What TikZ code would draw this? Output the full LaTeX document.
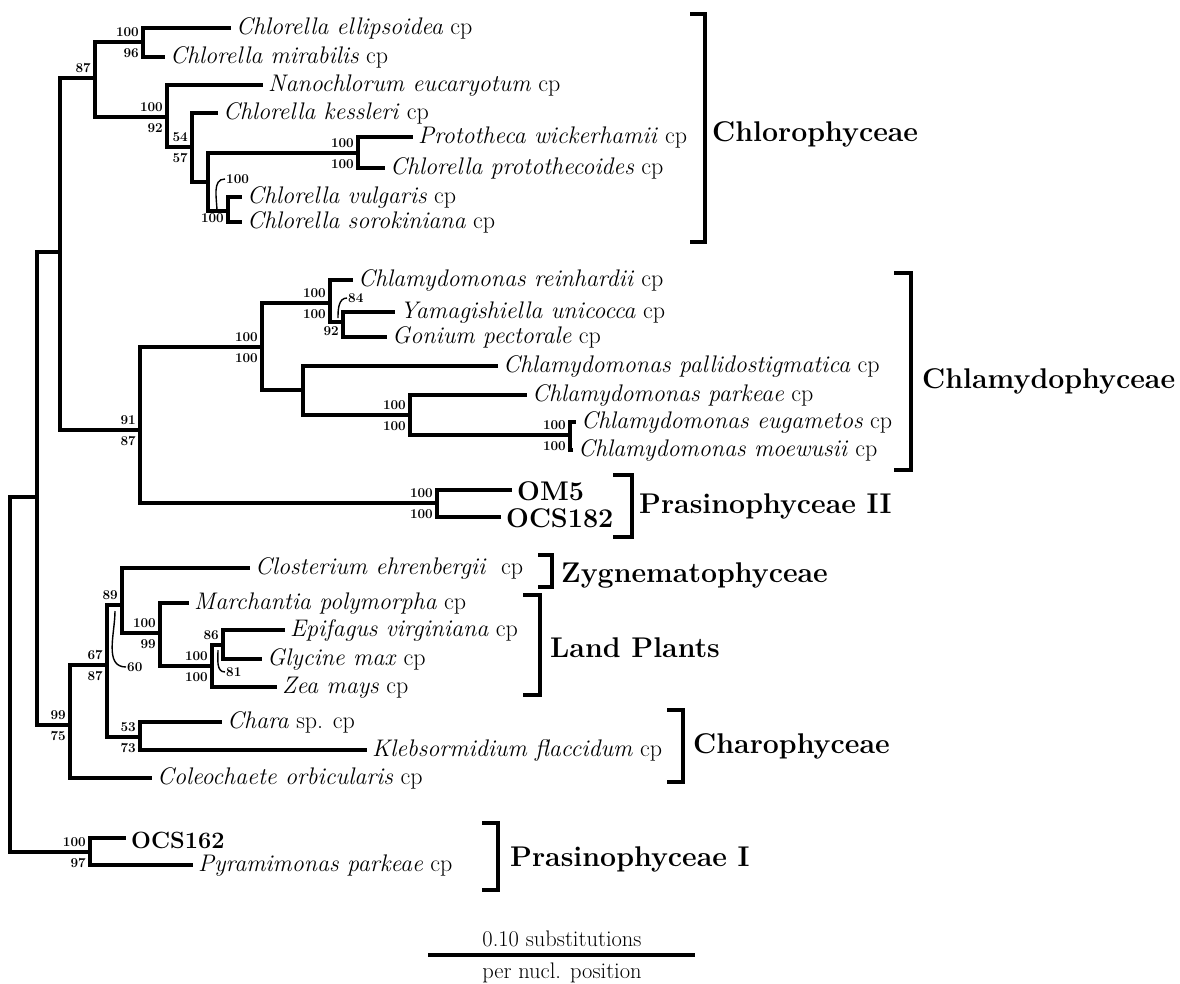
\documentclass[tikz,border=0pt]{standalone}
\usetikzlibrary{positioning}
\newcommand{\cpx}[1]{\textit{#1} cp}

\begin{document}
\begin{tikzpicture}[x=1pt,y=-1pt,
  br/.style={line width=4pt,line join=miter},
  lf/.style={anchor=west,inner xsep=5pt,inner ysep=0pt,text height=17pt,text depth=5pt,font=\fontsize{24}{28}\selectfont},
  lfb/.style={lf,text height=24pt,text depth=4pt,font=\fontsize{27}{30}\selectfont\bfseries},
  up/.style={anchor=south east,inner sep=1pt,font=\fontsize{13.5}{14}\selectfont\bfseries},
  dn/.style={anchor=north east,inner sep=1pt,font=\fontsize{13.5}{14}\selectfont\bfseries},
  sd/.style={anchor=west,inner sep=1pt,font=\fontsize{13.5}{14}\selectfont\bfseries},
  ld/.style={line width=1.4pt},
  brk/.style={line width=4pt,line join=miter},
  grp/.style={anchor=base west,inner sep=0pt,font=\fontsize{28.5}{32}\selectfont\bfseries},
  sc/.style={inner sep=0pt,font=\fontsize{22.5}{26}\selectfont}]

\useasboundingbox (0,0) rectangle (1180,983);

% inner nodes
\coordinate (r) at (10,675);
\coordinate (a) at (37,497);
\coordinate (b) at (60,252);
\coordinate (c) at (95,78);
\coordinate (e) at (143,42);
\coordinate (f) at (167,117);
\coordinate (g) at (192,147);
\coordinate (h) at (208,182);
\coordinate (i) at (358,153);
\coordinate (j) at (228,211);
\coordinate (d) at (140,430);
\coordinate (k) at (262,347);
\coordinate (l) at (330,303);
\coordinate (o) at (343,322);
\coordinate (n) at (303,390);
\coordinate (q) at (410,415);
\coordinate (s) at (570,435);
\coordinate (m) at (437,503);
\coordinate (lo) at (70,725);
\coordinate (t) at (107,665);
\coordinate (u) at (122,605);
\coordinate (w) at (160,633);
\coordinate (x) at (212,666);
\coordinate (y) at (223,645);
\coordinate (v) at (140,737);
\coordinate (p) at (90,852);

% leaves
\node[lf] (ell) at (231,28) {\cpx{Chlorella ellipsoidea}};
\node[lf] (mir) at (165,57) {\cpx{Chlorella mirabilis}};
\node[lf] (nan) at (263,85) {\cpx{Nanochlorum eucaryotum}};
\node[lf] (kes) at (218,113) {\cpx{Chlorella kessleri}};
\node[lf] (wic) at (413,137) {\cpx{Prototheca wickerhamii}};
\node[lf] (pro) at (385,168) {\cpx{Chlorella protothecoides}};
\node[lf] (vul) at (242,197) {\cpx{Chlorella vulgaris}};
\node[lf] (sor) at (242,222) {\cpx{Chlorella sorokiniana}};
\node[lf] (rei) at (353,280) {\cpx{Chlamydomonas reinhardii}};
\node[lf] (yam) at (395,312) {\cpx{Yamagishiella unicocca}};
\node[lf] (gon) at (387,337) {\cpx{Gonium pectorale}};
\node[lf] (pal) at (498,366) {\cpx{Chlamydomonas pallidostigmatica}};
\node[lf] (par) at (527,395) {\cpx{Chlamydomonas parkeae}};
\node[lf] (eug) at (576,422) {\cpx{Chlamydomonas eugametos}};
\node[lf] (moe) at (573,450) {\cpx{Chlamydomonas moewusii}};
\node[lfb] (om5) at (512,490) {OM5};
\node[lfb] (ocs182) at (501,517) {OCS182};
\node[lf] (clo) at (250,568) {\textit{Closterium ehrenbergii}\ \ cp};
\node[lf] (mar) at (189,603) {\cpx{Marchantia polymorpha}};
\node[lf] (epi) at (285,630) {\cpx{Epifagus virginiana}};
\node[lf] (gly) at (262,659) {\cpx{Glycine max}};
\node[lf] (zea) at (277,687) {\cpx{Zea mays}};
\node[lf] (cha) at (222,722) {\textit{Chara} sp. cp};
\node[lf] (kle) at (367,750) {\cpx{Klebsormidium flaccidum}};
\node[lf] (col) at (152,778) {\cpx{Coleochaete orbicularis}};
\node[lfb,font=\fontsize{23.5}{26}\selectfont\bfseries] (ocs162) at (126,838) {OCS162};
\node[lf] (pyr) at (193,865) {\cpx{Pyramimonas parkeae}};

% branches
\draw[br] (r) |- (a); \draw[br] (r) |- (p);
\draw[br] (a) |- (b); \draw[br] (a) |- (lo);
\draw[br] (b) |- (c); \draw[br] (b) |- (d);
\draw[br] (c) |- (e); \draw[br] (c) |- (f);
\draw[br] (e) |- (ell.west); \draw[br] (e) |- (mir.west);
\draw[br] (f) |- (nan.west); \draw[br] (f) |- (g);
\draw[br] (g) |- (kes.west); \draw[br] (g) |- (h);
\draw[br] (h) |- (i); \draw[br] (h) |- (j);
\draw[br] (i) |- (wic.west); \draw[br] (i) |- (pro.west);
\draw[br] (j) |- (vul.west); \draw[br] (j) |- (sor.west);
\draw[br] (d) |- (k); \draw[br] (d) |- (m);
\draw[br] (k) |- (l); \draw[br] (k) |- (n);
\draw[br] (l) |- (rei.west); \draw[br] (l) |- (o);
\draw[br] (o) |- (yam.west); \draw[br] (o) |- (gon.west);
\draw[br] (n) |- (pal.west); \draw[br] (n) |- (q);
\draw[br] (q) |- (par.west); \draw[br] (q) |- (s);
\draw[br] (s) |- (eug.west); \draw[br] (s) |- (moe.west);
\draw[br] (m) |- (om5.west); \draw[br] (m) |- (ocs182.west);
\draw[br] (lo) |- (t); \draw[br] (lo) |- (col.west);
\draw[br] (t) |- (u); \draw[br] (t) |- (v);
\draw[br] (u) |- (clo.west); \draw[br] (u) |- (w);
\draw[br] (w) |- (mar.west); \draw[br] (w) |- (x);
\draw[br] (x) |- (y); \draw[br] (x) |- (zea.west);
\draw[br] (y) |- (epi.west); \draw[br] (y) |- (gly.west);
\draw[br] (v) |- (cha.west); \draw[br] (v) |- (kle.west);
\draw[br] (p) |- (ocs162.west); \draw[br] (p) |- (pyr.west);

% bootstrap values
\node[up] at ([shift={(-3,-4)}]c) {87};
\node[up] at ([shift={(-3,-4)}]e) {100};
\node[dn] at ([shift={(-3,5)}]e) {96};
\node[up] at ([shift={(-3,-4)}]f) {100};
\node[dn] at ([shift={(-3,5)}]f) {92};
\node[up] at ([shift={(-3,-4)}]g) {54};
\node[dn] at ([shift={(-3,5)}]g) {57};
\node[up] at ([shift={(-3,-4)}]i) {100};
\node[dn] at ([shift={(-3,5)}]i) {100};
\node[dn] at ([shift={(-3,1)}]j) {100};
\node[up] at ([shift={(-3,-4)}]d) {91};
\node[dn] at ([shift={(-3,5)}]d) {87};
\node[up] at ([shift={(-3,-4)}]k) {100};
\node[dn] at ([shift={(-3,5)}]k) {100};
\node[up] at ([shift={(-3,-4)}]l) {100};
\node[dn] at ([shift={(-3,5)}]l) {100};
\node[dn] at ([shift={(-3,3)}]o) {92};
\node[up] at ([shift={(-3,-4)}]q) {100};
\node[dn] at ([shift={(-3,5)}]q) {100};
\node[up] at ([shift={(-3,-4)}]s) {100};
\node[dn] at ([shift={(-3,5)}]s) {100};
\node[up] at ([shift={(-3,-4)}]m) {100};
\node[dn] at ([shift={(-3,5)}]m) {100};
\node[up] at ([shift={(-3,-4)}]lo) {99};
\node[dn] at ([shift={(-3,5)}]lo) {75};
\node[up] at ([shift={(-3,-4)}]t) {67};
\node[dn] at ([shift={(-3,5)}]t) {87};
\node[up] at ([shift={(-3,-4)}]u) {89};
\node[up] at ([shift={(-3,-4)}]w) {100};
\node[dn] at ([shift={(-3,5)}]w) {99};
\node[up] at ([shift={(-3,-4)}]x) {100};
\node[dn] at ([shift={(-3,5)}]x) {100};
\node[up] at ([shift={(-3,-4)}]y) {86};
\node[up] at ([shift={(-3,-4)}]v) {53};
\node[dn] at ([shift={(-3,5)}]v) {73};
\node[up] at ([shift={(-3,-4)}]p) {100};
\node[dn] at ([shift={(-3,5)}]p) {97};

% curved leaders
\coordinate (jl) at (217,212);
\node[sd] (jv) at (225,179) {100};
\draw[ld] (jl) to[out=90,in=180] (jv.west);
\coordinate (ol) at (338,318);
\node[sd] (ov) at (347,298) {84};
\draw[ld] (ol) to[out=90,in=180] (ov.west);
\coordinate (ul) at (115,611);
\node[sd] (uv) at (126,667) {60};
\draw[ld] (ul) to[out=-90,in=180] (uv.west);
\coordinate (yl) at (218,650);
\node[sd] (yv) at (225,672) {81};
\draw[ld] (yl) to[out=-90,in=180] (yv.west);

% group brackets
\draw[brk] (690,14) -| (705,242) -- (690,242);
\node[grp] (chlo) at (712,141) {Chlorophyceae};
\draw[brk] (894,273) -| (911,470) -- (894,470);
\node[grp] (chla) at (922,388) {Chlamydophyceae};
\draw[brk] (613,475) -| (632,537) -- (613,537);
\node[grp] (pra2) at (639,513) {Prasinophyceae II};
\draw[brk] (538,555) -| (552,587) -- (538,587);
\node[grp] (zyg) at (561,582) {Zygnematophyceae};
\draw[brk] (523,595) -| (540,695) -- (523,695);
\node[grp] (land) at (550,657) {Land Plants};
\draw[brk] (667,710) -| (683,782) -- (667,782);
\node[grp] (char) at (693,753) {Charophyceae};
\draw[brk] (482,823) -| (498,890) -- (482,890);
\node[grp] (pra1) at (510,866) {Prasinophyceae I};

% scale bar
\coordinate (sbl) at (428,955);
\coordinate (sbr) at (695,955);
\draw[br] (sbl) -- (sbr);
\node[sc,anchor=base] (sbt) at (562,946) {0.10 substitutions};
\node[sc,anchor=base] (sbb) at (562,978) {per nucl. position};

\end{tikzpicture}
\end{document}
